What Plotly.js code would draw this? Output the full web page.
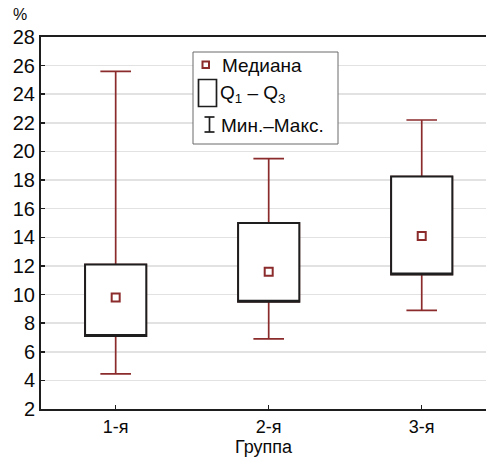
<!DOCTYPE html>
<html>
<head>
<meta charset="utf-8">
<script src="https://cdn.plot.ly/plotly-3.0.1.min.js"></script>
<style>
html,body{margin:0;padding:0;background:#fff;}
#chart{width:486px;height:459px;}
</style>
</head>
<body>
<div id="chart"></div>
<script>
// Data
const groups = ["1-я", "2-я", "3-я"];
const minVals = [4.45, 6.9, 8.9];
const q1Vals = [7.1, 9.5, 11.4];
const medianVals = [9.8, 11.6, 14.1];
const q3Vals = [12.1, 15.0, 18.25];
const maxVals = [25.6, 19.5, 22.2];
const yTicks = [2, 4, 6, 8, 10, 12, 14, 16, 18, 20, 22, 24, 26, 28];

const legendMedian = "Медиана";
const legendBox = "Q<sub>1</sub> – Q<sub>3</sub>";
const legendRange = "Мин.–Макс.";

// Styles
const RED = "#8b2b2b";
const DARK = "#1e1e1e";
const FONT = "Liberation Sans";
const TXT = "#0a0a0a";

// plot-area pixel geometry
const L = 41, R = 486, T = 37, B = 409;
const px = x => (x - L) / (R - L);
const py = y => (B - y) / (B - T);

const whiskers = {
  type: "box", x: groups,
  q1: q1Vals, median: q1Vals, q3: q3Vals,
  lowerfence: minVals, upperfence: maxVals,
  width: 0.4, whiskerwidth: 0.5,
  line: {color: RED, width: 1.7}, fillcolor: "#ffffff",
  hoverinfo: "skip", showlegend: false
};
const boxes = {
  type: "box", x: groups,
  q1: q1Vals, median: q1Vals, q3: q3Vals,
  lowerfence: q1Vals, upperfence: q3Vals,
  width: 0.4, whiskerwidth: 0,
  line: {color: DARK, width: 2}, fillcolor: "#ffffff",
  hoverinfo: "skip", showlegend: false
};
const medians = {
  type: "scatter", mode: "markers", x: groups, y: medianVals,
  marker: {symbol: "square-open", size: 8, color: RED, line: {width: 2, color: RED}},
  hoverinfo: "skip", showlegend: false
};

// Manual legend (box in pixel coordinates converted to paper)
const shapes = [
  {type: "rect", xref: "paper", yref: "paper", x0: px(193), x1: px(338), y0: py(52), y1: py(144),
   line: {color: "#6a6a6a", width: 1}, fillcolor: "#ffffff", layer: "above"},
  {type: "rect", xref: "paper", yref: "paper", x0: px(202.5), x1: px(209), y0: py(68), y1: py(61.5),
   line: {color: RED, width: 2}, fillcolor: "#ffffff", layer: "above"},
  {type: "rect", xref: "paper", yref: "paper", x0: px(198.5), x1: px(216.5), y0: py(106.5), y1: py(79.5),
   line: {color: DARK, width: 1.7}, fillcolor: "#ffffff", layer: "above"},
  {type: "line", xref: "paper", yref: "paper", x0: px(209.5), x1: px(209.5), y0: py(117), y1: py(132),
   line: {color: DARK, width: 1.7}, layer: "above"},
  {type: "line", xref: "paper", yref: "paper", x0: px(204.5), x1: px(214.5), y0: py(117), y1: py(117),
   line: {color: DARK, width: 1.7}, layer: "above"},
  {type: "line", xref: "paper", yref: "paper", x0: px(204.5), x1: px(214.5), y0: py(132), y1: py(132),
   line: {color: DARK, width: 1.7}, layer: "above"}
];

const annFont = {family: FONT, size: 19, color: TXT};
const annotations = [
  {xref: "paper", yref: "paper", x: px(220), y: py(65), text: legendMedian, showarrow: false,
   xanchor: "left", yanchor: "middle", font: annFont},
  {xref: "paper", yref: "paper", x: px(218), y: py(94), text: legendBox, showarrow: false,
   xanchor: "left", yanchor: "middle", font: annFont},
  {xref: "paper", yref: "paper", x: px(219), y: py(125), text: legendRange, showarrow: false,
   xanchor: "left", yanchor: "middle", font: annFont},
  {xref: "paper", yref: "paper", x: px(20), y: py(14), text: "%", showarrow: false,
   xanchor: "center", yanchor: "middle", font: {family: FONT, size: 16, color: TXT}}
];

const layout = {
  width: 486, height: 459,
  margin: {l: L, r: 486 - R, t: T, b: 459 - B, pad: 0},
  paper_bgcolor: "#ffffff", plot_bgcolor: "#ffffff",
  boxmode: "overlay",
  font: {family: FONT, size: 18, color: TXT},
  xaxis: {
    type: "category", range: [-0.488, 2.42],
    showline: true, linecolor: DARK, linewidth: 2, mirror: true,
    ticks: "inside", ticklen: 4, tickwidth: 1.5, tickcolor: DARK,
    showgrid: false, zeroline: false,
    tickfont: {family: FONT, size: 18, color: TXT},
    title: {text: "Группа", font: {family: FONT, size: 18, color: TXT}, standoff: 5}
  },
  yaxis: {
    range: [2, 28], tickvals: yTicks, ticktext: yTicks.map(String),
    showline: true, linecolor: DARK, linewidth: 2,
    ticks: "inside", ticklen: 4, tickwidth: 1.5, tickcolor: DARK,
    showgrid: true, gridcolor: "#e2e2e2", gridwidth: 1.5, zeroline: false,
    tickfont: {family: FONT, size: 20, color: TXT}
  },
  shapes: shapes,
  annotations: annotations,
  showlegend: false
};

Plotly.newPlot("chart", [whiskers, boxes, medians], layout, {displayModeBar: false, staticPlot: true});
</script>
</body>
</html>
